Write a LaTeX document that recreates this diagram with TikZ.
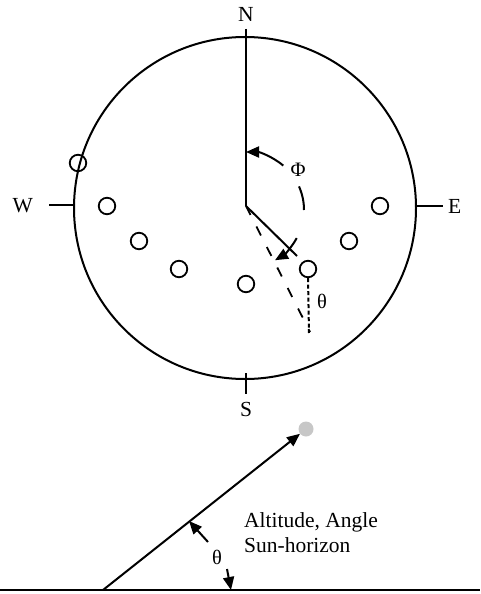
\documentclass[tikz,border=0pt]{standalone}
\usepackage{fontspec}
\setmainfont{Liberation Serif}
\usetikzlibrary{arrows.meta}
\begin{document}
\begin{tikzpicture}[x=1pt,y=-1pt,
  line/.style={line width=2pt},
  spot/.style={circle,draw,line width=1.8pt,minimum size=16.5pt,inner sep=0pt},
  lbl/.style={font=\fontsize{21.5}{26}\selectfont,inner sep=0pt},
  glbl/.style={font=\fontsize{20.5}{25}\selectfont,inner sep=0pt},
  tip/.style={-{Triangle[length=13pt,width=11pt]}},
  pit/.style={{Triangle[length=13pt,width=11pt]}-},
  sun/.style={circle,fill=black!22,minimum size=15pt,inner sep=0pt}
]
\useasboundingbox (0,0) rectangle (480,594);
% compass circle
\coordinate (O) at (245,208);
\draw[line] (O) circle[radius=171];
\coordinate (C) at (246,206);
\coordinate (Ntop) at (246,29);
\coordinate (S1) at (246,373);
\coordinate (S2) at (246,394);
\coordinate (W1) at (49,205);
\coordinate (W2) at (73,205);
\coordinate (E1) at (415,206);
\coordinate (E2) at (443,206);
\draw[line] (Ntop) -- (C);
\draw[line] (S1) -- (S2);
\draw[line] (W1) -- (W2);
\draw[line] (E1) -- (E2);
\node[lbl] (N) at (246,14.5) {N};
\node[lbl] (S) at (246,409) {S};
\node[lbl,anchor=east] (W) at (33,206) {W};
\node[lbl,anchor=west] (E) at (448,206) {E};
% sun positions
\node[spot] (p1) at (78,163) {};
\node[spot] (p2) at (107,206) {};
\node[spot] (p3) at (139,241) {};
\node[spot] (p4) at (179,269) {};
\node[spot] (p5) at (246,284) {};
\node[spot] (p6) at (308,269) {};
\node[spot] (p7) at (349,241) {};
\node[spot] (p8) at (380,206) {};
% azimuth lines
\coordinate (Az) at (297,256);
\draw[line] (C) -- (Az);
\coordinate (Dz) at (310,332);
\draw[line width=1.8pt,dash pattern=on 10pt off 13pt] (C) -- (Dz);
\coordinate (Vz) at (309,333);
\draw[line width=2pt,dash pattern=on 4pt off 2.5pt] (p6.south) -- (Vz);
\node[glbl] (th1) at (322,301) {θ};
% Phi arc
\coordinate (A) at (246,210);
\draw[line,pit] ([shift={(-90:58)}]A) arc[start angle=-90,end angle=-50,radius=58];
\draw[line] ([shift={(-24:58)}]A) arc[start angle=-24,end angle=0,radius=58];
\draw[line,tip] ([shift={(29:58)}]A) arc[start angle=29,end angle=60,radius=58];
\node[glbl] (phi) at (298,170) {Φ};
% altitude
\coordinate (G1) at (0,590);
\coordinate (G2) at (480,590);
\draw[line width=2.6pt] (G1) -- (G2);
\node[sun] (sun) at (306,429) {};
\coordinate (Base) at (103,590);
\draw[line,tip] (Base) -- (sun);
\coordinate (t1a) at (208,542);
\coordinate (t1b) at (189,521);
\coordinate (t2a) at (227,569);
\coordinate (t2b) at (231,590);
\draw[line,tip] (t1a) -- (t1b);
\draw[line,tip] (t2a) -- (t2b);
\node[glbl] (th2) at (217,557) {θ};
\node[lbl,anchor=base west] (alt) at (244,527) {Altitude, Angle};
\node[lbl,anchor=base west] (sh) at (244,552) {Sun-horizon};
\end{tikzpicture}
\end{document}
